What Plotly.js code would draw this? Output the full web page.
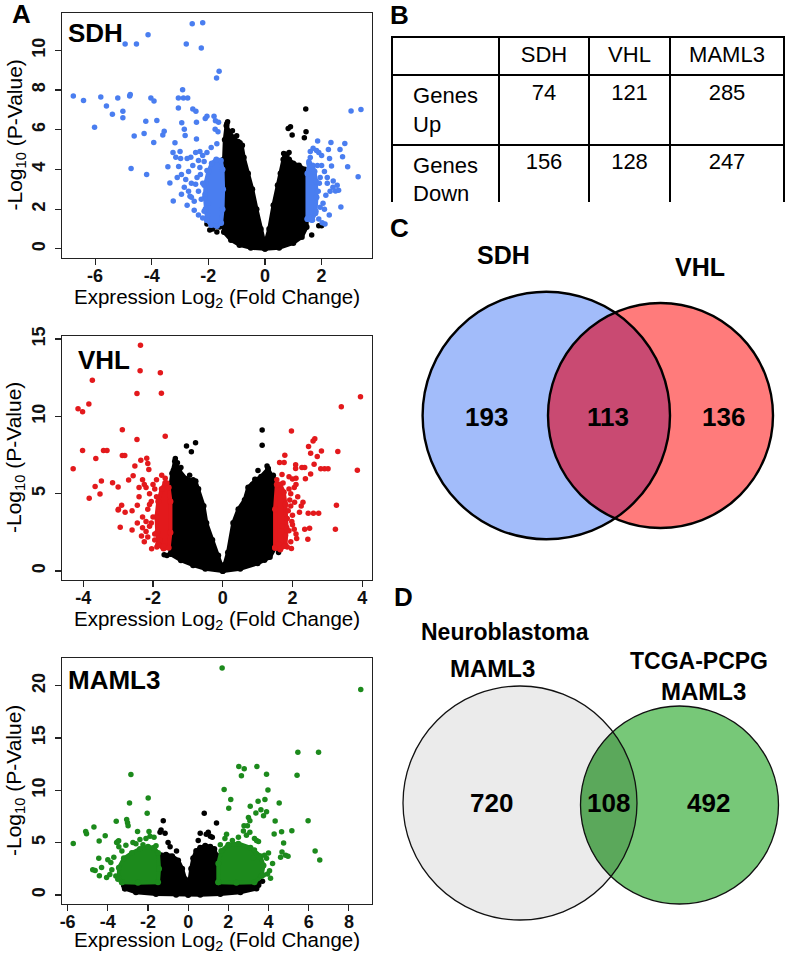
<!DOCTYPE html>
<html><head><meta charset="utf-8">
<script src="https://cdn.plot.ly/plotly-3.0.1.min.js"></script>
<style>html,body{margin:0;padding:0;background:#fff;}#chart{width:787px;height:953px;}</style>
</head><body><div id="chart"></div>
<script>
// ---------------- DATA ----------------
// Panel A, SDH: significant genes (blue), individual points [log2FC, -log10 p]
const sdhSig = [[-2.57,11.34],[-2.20,11.39],[-4.13,10.79],[-4.94,10.32],[-4.54,10.32],[-2.78,10.32],[-2.25,10.12],[-1.62,8.94],[-1.71,8.61],
[-6.77,7.70],[-6.41,7.47],[-5.80,7.65],[-5.60,7.19],[-5.39,6.78],[-5.20,7.60],[-5.02,6.93],[-5.02,6.60],[-4.78,7.70],[-4.76,7.78],[-6.02,6.13],[-4.03,7.60],[-3.92,7.45],[-4.62,5.68],[-4.27,5.81],[-4.21,6.43],[-3.82,6.47],[-3.93,5.36],[-3.61,5.73],[-3.56,5.93],[-4.73,4.05],[-4.18,3.75],
[-3.06,7.60],[-2.88,7.60],[-2.73,7.60],[-2.91,8.02],[-3.06,7.10],[-2.55,7.04],[-2.44,6.93],[-2.94,6.35],[-2.85,6.03],[-2.82,5.71],[-2.42,6.38],[-2.11,6.57],[-2.05,6.68],[-1.80,6.68],[-1.75,6.45],[-1.64,6.38],[-2.42,5.54],[-3.18,5.34],[-3.43,4.14],[-3.36,3.32],[-3.24,2.41],
[-3.25,4.85],[-3.15,4.62],[-3.00,4.90],[-2.98,4.55],[-2.75,4.55],[-2.62,4.62],[-2.45,4.85],[-2.30,4.90],[-2.20,4.70],[-2.05,4.85],[-1.90,5.10],[-1.70,5.30],[-1.66,5.90],[-1.76,6.02],[-3.05,4.15],[-2.95,3.75],[-2.80,3.50],[-2.70,3.90],[-2.60,3.30],[-2.55,4.20],[-2.40,3.60],[-2.30,4.10],[-2.20,3.30],[-2.70,2.90],[-2.60,2.60],[-2.75,2.20],[-2.50,2.40],[-2.35,2.90],[-2.25,2.50],[-2.15,1.90],[-2.35,1.70],[-2.65,2.65],[-2.95,2.75],[-2.45,3.25],[-2.50,1.95],[-2.20,1.55],[-2.85,3.10],[-3.10,3.60],[-2.15,4.40],[-2.35,4.45],[-2.05,3.95],[-2.12,2.75],[-2.0,2.3],[-2.02,1.7],[-2.28,3.75],[-2.15,3.2],
[3.04,6.95],[3.39,7.02],[1.86,5.43],[2.33,5.36],[2.82,5.31],[1.60,4.90],[1.70,5.07],[1.82,4.95],[1.90,4.85],[2.00,4.70],[2.24,5.00],[2.28,4.55],[2.35,4.17],[2.74,4.64],[2.92,4.14],[3.29,3.63],[2.41,3.42],[2.49,2.91],[2.68,2.11],[2.27,1.71],[2.02,1.32],[1.90,1.50],[2.10,3.90],[2.20,3.30],[2.15,2.70],[2.05,2.30],[1.95,3.60],[2.00,4.20],[1.60,4.60],[1.55,4.40],[2.10,2.00],[2.30,2.90],[1.95,2.10],[2.40,3.10],[2.60,2.95],[2.55,3.20],[2.20,3.60],[1.80,1.90],[2.65,5.00],[1.68,1.45],[1.55,1.60],[2.12,1.25],[1.88,2.9],[1.92,3.3],[1.85,4.2]];
// SDH dense significant clouds (outline of the solid blue mass)
const sdhSigCloudL = [[-2.05,1.45],[-1.9,1.2],[-1.7,1.15],[-1.55,1.3],[-1.5,2.0],[-1.48,3.0],[-1.5,4.0],[-1.56,4.45],[-1.72,4.5],[-1.88,4.3],[-2.0,3.9],[-2.1,3.3],[-2.12,2.6],[-2.1,2.0]];
const sdhSigCloudR = [[1.5,1.5],[1.65,1.45],[1.78,1.8],[1.82,2.6],[1.8,3.4],[1.75,3.9],[1.68,4.2],[1.56,4.3],[1.5,3.8]];
// SDH non-significant genes: outline of the solid black mass, and stray points
const sdhNsCloud = [[0,0.0],[-0.5,0.05],[-0.9,0.2],[-1.2,0.45],[-1.45,0.85],[-1.48,2.0],[-1.47,3.5],[-1.46,4.5],[-1.42,5.5],[-1.36,6.2],[-1.25,5.85],[-1.1,5.6],[-0.95,5.4],[-0.82,5.2],[-0.75,4.6],[-0.6,3.8],[-0.45,3.0],[-0.3,2.0],[-0.15,1.0],[-0.04,0.4],[0.03,0.4],[0.15,1.0],[0.3,2.2],[0.45,3.2],[0.55,3.8],[0.65,4.5],[0.72,4.75],[0.85,4.5],[1.0,4.3],[1.2,4.2],[1.4,4.0],[1.47,3.5],[1.48,2.0],[1.47,1.1],[1.3,0.6],[1.0,0.3],[0.5,0.05]];
const sdhNs = [[1.44,7.05],[0.82,6.06],[0.90,6.15],[0.96,5.73],[1.39,5.6],[1.45,5.9],[1.65,0.7],[2.0,1.16],[1.9,1.16],[-2.05,1.25],[-1.95,0.95],[-1.85,1.0],[-1.75,1.15],[-1.7,0.85],[-1.6,1.1],[-1.32,6.4],[-1.27,5.68],[-1.0,5.7],[-0.88,5.35],[-0.80,5.22],[0.78,4.75],[0.85,4.85],[-1.35,6.3],[-1.15,5.95],[0.66,4.8],[0.7,4.6]];

// Panel A, VHL
const vhlSig = [[-2.36,14.6],[-2.37,12.96],[-1.79,12.83],[-3.74,12.34],[-2.46,11.48],[-1.76,11.5],[-3.84,10.8],[-4.15,10.5],[-4.02,10.3],[-2.88,9.14],[-1.65,8.71],[-2.46,8.5],[-4.02,7.79],[-3.42,7.79],[-3.32,7.79],[-3.64,7.28],[-4.29,6.61],[-2.88,7.47],[-2.81,7.47],[-2.35,7.17],[-2.18,7.3],[-2.15,6.95],[-2.12,6.56],[-2.52,6.8],[-2.57,6.16],[-2.70,5.88],[-3.48,5.82],[-3.66,5.47],[-3.16,5.71],[-3.00,5.43],[-3.83,4.70],[-3.52,4.98],[-2.40,5.40],[-2.30,5.90],[-2.25,5.60],[-2.20,5.40],[-3.00,3.95],[-2.90,4.25],[-2.80,3.80],[-2.60,3.90],[-2.45,4.25],[-2.94,2.83],[-2.60,2.66],[-2.33,2.27],[-2.45,3.10],[-2.30,2.80],[-2.20,3.20],[-2.04,1.44],[-1.89,1.55],[-2.99,4.00],[-2.1,5.0],[-2.0,5.6],[-1.9,5.9],[-1.75,6.2],[-2.05,4.5],[-2.15,4.0],[-2.0,3.5],[-2.1,2.9],[-1.95,2.4],[-2.15,2.2],[-1.8,2.0],[-1.7,1.6],[-2.25,1.9],[-1.9,4.8],[-2.4,4.8],[-1.65,6.0],[-1.6,5.7],[-2.05,3.1],[-1.95,2.0],[-2.2,2.55],[-2.1,4.3],[-1.95,5.3],[-2.3,3.5],
[3.95,11.27],[3.40,10.62],[1.97,9.06],[2.64,8.56],[2.59,8.41],[2.46,8.05],[2.83,7.77],[2.71,7.40],[2.52,7.62],[3.30,7.73],[1.78,7.49],[1.63,7.02],[1.76,7.02],[2.09,6.87],[2.09,6.63],[2.27,6.70],[2.35,6.70],[2.62,6.91],[2.81,6.61],[2.92,6.61],[3.02,6.61],[3.86,6.52],[2.52,6.27],[2.37,5.97],[1.90,6.10],[2.00,5.95],[2.10,6.00],[1.73,5.70],[1.90,5.30],[1.95,5.00],[2.05,5.40],[2.06,4.45],[2.20,3.80],[2.25,4.20],[2.30,4.45],[2.45,3.73],[2.60,3.73],[2.75,3.73],[3.26,4.25],[1.98,3.20],[2.05,2.70],[2.10,2.40],[2.12,2.10],[2.35,2.70],[2.44,2.06],[2.49,2.77],[3.23,2.70],[1.97,1.46],[1.85,1.55],[1.75,1.60],[1.65,1.50],[1.60,1.75],[1.80,2.30],[1.90,2.60],[1.70,2.90],[1.85,3.40],[2.00,3.60],[1.95,4.20],[2.15,4.80],[2.10,5.60],[1.70,6.25],[1.55,5.9],[1.95,1.9],[2.0,3.0],[1.88,3.9],[1.92,4.6]];
const vhlSigCloudL = [[-1.85,1.7],[-1.7,1.45],[-1.55,1.5],[-1.5,2.5],[-1.5,4.5],[-1.55,5.4],[-1.65,5.7],[-1.75,5.3],[-1.85,4.5],[-1.9,3.5],[-1.88,2.5]];
const vhlSigCloudR = [[1.5,1.5],[1.65,1.4],[1.8,1.65],[1.83,2.8],[1.8,4.3],[1.75,5.1],[1.65,5.6],[1.55,5.6],[1.5,4.0]];
const vhlNsCloud = [[0,0],[-0.5,0.15],[-0.85,0.38],[-1.2,0.7],[-1.5,1.1],[-1.53,2.5],[-1.53,4.0],[-1.5,5.5],[-1.45,6.3],[-1.37,7.1],[-1.25,6.5],[-1.05,5.95],[-0.78,5.8],[-0.7,5.3],[-0.55,4.2],[-0.47,3.1],[-0.3,2.0],[-0.13,1.0],[-0.03,0.3],[0.05,0.4],[0.15,1.2],[0.3,3.1],[0.45,4.0],[0.63,4.6],[0.73,5.4],[0.95,5.9],[1.1,6.1],[1.3,6.6],[1.44,6.0],[1.48,4.5],[1.5,3.0],[1.5,1.5],[1.35,0.9],[1.0,0.5],[0.5,0.15]];
const vhlNs = [[-1.04,8.09],[-0.9,7.71],[-0.78,8.3],[1.13,9.12],[1.13,8.13],[1.27,6.8],[1.3,6.65],[-1.36,7.27],[-1.3,7.0],[-1.6,1.0],[-1.68,1.05],[1.6,1.2],[1.2,0.69],[0.92,5.94],[1.01,6.5],[-1.42,6.5],[-0.95,6.2],[-0.85,5.9],[-1.2,6.7],[0.85,5.6],[1.45,6.2]];

// Panel A, MAML3
const mamlSig = [[-2.85,11.5],[-2.92,8.79],[-1.99,9.27],[-2.04,7.8],[-3.06,7.2],[-3.02,6.9],[-2.99,6.6],[-3.58,7.03],[-4.69,6.49],[-5.10,6.07],[-5.06,5.85],[-5.72,4.92],[-4.43,5.15],[-4.13,5.66],[-3.56,5.0],[-3.46,5.18],[-2.52,6.07],[-1.95,6.07],[-1.90,5.6],[-2.1,5.4],[-4.63,2.33],[-4.42,1.82],[-4.06,1.66],[-4.31,2.62],[-4.45,3.5],[-3.85,3.1],[-3.7,3.6],[-3.8,2.4],[-3.5,5.1],[-2.75,5.0],[-2.6,4.9],[-1.7,5.5],[-1.6,4.7],[-3.3,4.2],[-3.45,4.6],[-3.6,1.8],[-3.5,1.5],[-2.4,5.3],[-2.25,4.8],[-3.1,4.75],[-3.9,1.95],[-4.75,2.4],[-4.0,3.35],
[1.69,21.7],[8.59,19.65],[5.46,13.64],[6.49,13.64],[5.42,11.44],[2.52,12.27],[2.79,12.05],[2.65,11.4],[3.42,12.27],[3.90,11.53],[1.79,10.07],[3.97,10.04],[2.12,9.11],[2.02,8.28],[3.48,8.95],[3.82,9.11],[4.53,8.79],[3.09,8.47],[3.62,8.15],[3.37,7.83],[3.90,7.96],[3.75,7.57],[3.00,7.41],[3.07,7.09],[4.33,7.06],[5.97,7.09],[5.16,6.14],[4.65,6.04],[4.28,5.82],[2.78,6.6],[2.95,6.6],[3.07,6.0],[2.9,5.7],[2.75,6.1],[1.91,5.8],[1.83,5.4],[3.3,5.4],[3.4,5.2],[3.5,5.1],[4.75,4.96],[6.32,4.19],[6.55,3.33],[4.67,4.1],[4.85,3.8],[4.97,3.7],[3.8,3.8],[4.0,4.0],[3.9,3.5],[4.05,2.3],[3.95,2.0],[3.75,1.9],[4.1,1.6],[3.3,4.3],[3.4,3.9],[3.5,3.6],[3.25,3.5],[2.2,5.2],[2.5,5.5],[1.6,4.8],[4.2,3.0],[4.6,3.6]];
const mamlSigCloudL = [[-3.3,1.2],[-2.5,1.15],[-1.5,1.2],[-1.45,2.5],[-1.5,4.0],[-1.7,4.5],[-2.0,4.6],[-2.4,4.4],[-2.8,4.0],[-3.2,3.5],[-3.45,2.6],[-3.45,1.6]];
const mamlSigCloudR = [[1.5,1.2],[2.4,1.15],[3.3,1.2],[3.65,1.8],[3.75,2.8],[3.6,3.7],[3.1,4.5],[2.5,4.9],[2.0,4.8],[1.65,4.2],[1.5,3.0]];
const mamlNsCloud = [[-3.15,0.6],[-2.6,0.25],[-1.6,0.08],[-0.6,0.02],[0,0],[0.6,0.02],[1.6,0.08],[2.6,0.25],[3.4,0.6],[3.5,0.95],[3.0,1.1],[2.2,1.15],[1.45,1.2],[1.43,2.5],[1.4,3.8],[1.3,4.4],[1.1,4.6],[0.85,4.7],[0.6,4.5],[0.4,4.2],[0.25,3.5],[0.15,2.5],[0.08,1.2],[0.0,0.4],[-0.08,0.5],[-0.15,1.5],[-0.3,2.5],[-0.5,3.3],[-0.8,3.7],[-1.1,3.85],[-1.35,3.8],[-1.5,3.4],[-1.5,1.2],[-2.2,1.15],[-2.9,1.05],[-3.2,0.9]];
const mamlNs = [[-1.24,7.1],[-1.35,6.2],[-1.15,5.9],[-0.58,4.2],[-1.0,5.0],[0.8,7.8],[1.41,6.87],[1.0,6.0],[0.9,5.8],[0.6,5.9],[1.2,5.5],[-3.3,1.3],[-3.0,1.0],[-2.5,1.2],[3.5,1.15],[3.7,1.3],[-1.4,6.0],[-0.9,4.6],[0.5,5.2],[1.1,5.6]];

// Panel A tick labels
const sdhXTicks = [-6,-4,-2,0,2], sdhYTicks = [0,2,4,6,8,10];
const vhlXTicks = [-4,-2,0,2,4], vhlYTicks = [0,5,10,15];
const mamlXTicks = [-6,-4,-2,0,2,4,6,8], mamlYTicks = [0,5,10,15,20];

// Panel B table
const tableCols = ['SDH','VHL','MAML3'];
const tableRows = ['Genes<br>Up','Genes<br>Down'];
const genesUp = [74,121,285];
const genesDown = [156,128,247];

// Panels C and D (Venn counts: only-left, shared, only-right)
const vennCLabels = ['SDH','VHL'];
const vennCCounts = [193,113,136];
const vennDLabels = ['Neuroblastoma<br>MAML3','TCGA-PCPG<br>MAML3'];
const vennDCounts = [720,108,492];

// ---------------- DRAWING ----------------
const W=787, H=953;
const FONT='Liberation Sans, Arial, sans-serif';
const xs = a => a.map(p=>p[0]);
const ys = a => a.map(p=>p[1]);
const dX = (a,b)=>[a/W,b/W];
const dY = (top,bot)=>[1-bot/H,1-top/H];

const BLUE='#4a7ef0', RED='#e3191c', GREEN='#1c8a1c', BLACK='#000';

function cloud(arr, col, xa, ya){
  return {type:'scatter', mode:'lines+markers', x:xs(arr).concat([arr[0][0]]), y:ys(arr).concat([arr[0][1]]),
    fill:'toself', fillcolor:col, line:{color:col,width:4}, marker:{color:col,size:6},
    xaxis:xa, yaxis:ya, hoverinfo:'skip', showlegend:false};
}
function dots(arr, col, xa, ya){
  return {type:'scatter', mode:'markers', x:xs(arr), y:ys(arr), marker:{color:col,size:5.5,line:{width:0}},
    xaxis:xa, yaxis:ya, hoverinfo:'skip', showlegend:false};
}

const traces = [
  cloud(sdhNsCloud,BLACK,'x','y'), dots(sdhNs,BLACK,'x','y'),
  cloud(sdhSigCloudL,BLUE,'x','y'), cloud(sdhSigCloudR,BLUE,'x','y'), dots(sdhSig,BLUE,'x','y'),
  cloud(vhlNsCloud,BLACK,'x2','y2'), dots(vhlNs,BLACK,'x2','y2'),
  cloud(vhlSigCloudL,RED,'x2','y2'), cloud(vhlSigCloudR,RED,'x2','y2'), dots(vhlSig,RED,'x2','y2'),
  cloud(mamlNsCloud,BLACK,'x3','y3'), dots(mamlNs,BLACK,'x3','y3'),
  cloud(mamlSigCloudL,GREEN,'x3','y3'), cloud(mamlSigCloudR,GREEN,'x3','y3'), dots(mamlSig,GREEN,'x3','y3'),
  {type:'table', domain:{x:dX(392,784), y:dY(37,203)}, columnwidth:[107,90,81,114],
   header:{values:[' '].concat(tableCols), height:38, align:'center',
     line:{color:'#000',width:2}, fill:{color:'#fff'}, font:{family:FONT,size:22,color:'#000'}},
   cells:{values:[tableRows, [genesUp[0],genesDown[0]], [genesUp[1],genesDown[1]], [genesUp[2],genesDown[2]]],
     height:64, align:'center', line:{color:'#000',width:2}, fill:{color:'#fff'}, font:{family:FONT,size:22,color:'#000'}}}
];

const axBase = {showline:true, mirror:true, linecolor:'#222', linewidth:1.2, ticks:'outside', ticklen:6,
  tickwidth:1.2, tickcolor:'#222', showgrid:false, zeroline:false, ticklabelstandoff:-5,
  tickfont:{family:FONT,size:18,color:'#111',weight:700}};
const bold = v => v.map(t=>'<b>'+t+'</b>');
const yExtra = {tickangle:-90, ticklabelstandoff:3};

const layout = {
  width:W, height:H, margin:{l:0,r:0,t:0,b:0}, paper_bgcolor:'#fff', plot_bgcolor:'rgba(0,0,0,0)', showlegend:false,
  xaxis: Object.assign({}, axBase, {domain:dX(62,372), range:[-7.17,3.78], tickvals:sdhXTicks, ticktext:bold(sdhXTicks), anchor:'y'}),
  yaxis: Object.assign({}, axBase, yExtra, {domain:dY(13,258), range:[-0.46,11.88], tickvals:sdhYTicks, ticktext:bold(sdhYTicks), anchor:'x'}),
  xaxis2: Object.assign({}, axBase, {domain:dX(62,372), range:[-4.61,4.28], tickvals:vhlXTicks, ticktext:bold(vhlXTicks), anchor:'y2'}),
  yaxis2: Object.assign({}, axBase, yExtra, {domain:dY(336,580), range:[-0.58,15.2], tickvals:vhlYTicks, ticktext:bold(vhlYTicks), anchor:'x2'}),
  xaxis3: Object.assign({}, axBase, {domain:dX(62,372), range:[-6.28,9.15], tickvals:mamlXTicks, ticktext:bold(mamlXTicks), anchor:'y3'}),
  yaxis3: Object.assign({}, axBase, yExtra, {domain:dY(658,904), range:[-0.87,22.65], tickvals:mamlYTicks, ticktext:bold(mamlYTicks), anchor:'x3'}),
  xaxis4: {domain:[380/W,1], range:[380,787], visible:false, anchor:'y4', fixedrange:true},
  yaxis4: {domain:[0,1-205/H], range:[953,205], visible:false, anchor:'x4', fixedrange:true},
  shapes:[], annotations:[]
};

// Venn geometry (layout, in the overlay axis units = pixels)
const cBlue={x:546.3,y:415.5,r:123.7}, cRed={x:660.5,y:415.5,r:112.5};
const dGrey={x:520,y:803,r:117}, dGreen={x:679.5,y:805,r:99};
function circ(c, fill, line){
  return {type:'circle', xref:'x4', yref:'y4', x0:c.x-c.r, x1:c.x+c.r, y0:c.y-c.r, y1:c.y+c.r,
    fillcolor:fill, line:line, layer:'above'};
}
function lens(c1,c2,fill){
  const d=Math.hypot(c2.x-c1.x,c2.y-c1.y), phi=Math.atan2(c2.y-c1.y,c2.x-c1.x);
  const a=(c1.r*c1.r-c2.r*c2.r+d*d)/(2*d);
  const al=Math.acos(a/c1.r), be=Math.acos((d-a)/c2.r);
  const pts=[]; const n=60;
  for(let i=0;i<=n;i++){const t=phi-al+2*al*i/n; pts.push([c1.x+c1.r*Math.cos(t), c1.y+c1.r*Math.sin(t)]);}
  for(let i=0;i<=n;i++){const t=phi+Math.PI-be+2*be*i/n; pts.push([c2.x+c2.r*Math.cos(t), c2.y+c2.r*Math.sin(t)]);}
  const path='M'+pts.map(p=>p[0].toFixed(2)+','+p[1].toFixed(2)).join('L')+'Z';
  return {type:'path', xref:'x4', yref:'y4', path:path, fillcolor:fill, line:{width:0}, layer:'above'};
}
layout.shapes.push(
  circ(cBlue,'#a2bcfa',{width:0}), circ(cRed,'#ff7b7b',{width:0}), lens(cBlue,cRed,'#c94a72'),
  circ(cBlue,'rgba(0,0,0,0)',{color:'#000',width:2.4}), circ(cRed,'rgba(0,0,0,0)',{color:'#000',width:2.4}),
  circ(dGrey,'#ebebeb',{width:0}), circ(dGreen,'#77c878',{width:0}), lens(dGrey,dGreen,'#5ba85b'),
  circ(dGrey,'rgba(0,0,0,0)',{color:'#111',width:1.3}), circ(dGreen,'rgba(0,0,0,0)',{color:'#111',width:1.3})
);

function ann(text,x,y,size,ref,xanchor,angle){
  return {text:text, x:x, y:y, xref:ref?'x4':'paper', yref:ref?'y4':'paper', showarrow:false,
    xanchor:xanchor||'center', yanchor:'middle', textangle:angle||0, font:{family:FONT,size:size,color:'#000'}};
}
const P = (px,py)=>[px/W, 1-py/H];
// axis titles (placed as in the reference)
[[298,135.5],[620,458],[941,781]].forEach(t=>{
  let p=P(217,t[0]); layout.annotations.push(ann('Expression Log<sub>2</sub> (Fold Change)',p[0],p[1],20.5,false));
  p=P(15,t[1]); layout.annotations.push(ann('-Log<sub>10</sub> (P-Value)',p[0],p[1],21,false,'center',-90));
});
// panel letters
[['A',21,14],['B',399,15],['C',399,228],['D',403,597]].forEach(l=>{const p=P(l[1],l[2]); layout.annotations.push(ann('<b>'+l[0]+'</b>',p[0],p[1],26,false));});
// volcano labels
[['SDH',66,33],['VHL',76,360],['MAML3',66,680]].forEach(l=>{const p=P(l[1],l[2]); layout.annotations.push(ann('<b>'+l[0]+'</b>',p[0],p[1],26,false,'left'));});
// Venn C
layout.annotations.push(ann('<b>'+vennCLabels[0]+'</b>',503,255,25,true));
layout.annotations.push(ann('<b>'+vennCLabels[1]+'</b>',700,267,25,true));
layout.annotations.push(ann('<b>'+vennCCounts[0]+'</b>',486,417,26,true));
layout.annotations.push(ann('<b>'+vennCCounts[1]+'</b>',608,417,26,true));
layout.annotations.push(ann('<b>'+vennCCounts[2]+'</b>',723,417,26,true));
// Venn D
const dl0=vennDLabels[0].split('<br>'), dl1=vennDLabels[1].split('<br>');
layout.annotations.push(ann('<b>'+dl0[0]+'</b>',505,632,23,true));
layout.annotations.push(ann('<b>'+dl0[1]+'</b>',492,668,24,true));
layout.annotations.push(ann('<b>'+dl1[0]+'</b>',699,661,23,true));
layout.annotations.push(ann('<b>'+dl1[1]+'</b>',703,691,24,true));
layout.annotations.push(ann('<b>'+vennDCounts[0]+'</b>',491,803,26,true));
layout.annotations.push(ann('<b>'+vennDCounts[1]+'</b>',608,803,26,true));
layout.annotations.push(ann('<b>'+vennDCounts[2]+'</b>',708,803,26,true));

Plotly.newPlot('chart', traces, layout, {staticPlot:true, displayModeBar:false});
</script></body></html>
